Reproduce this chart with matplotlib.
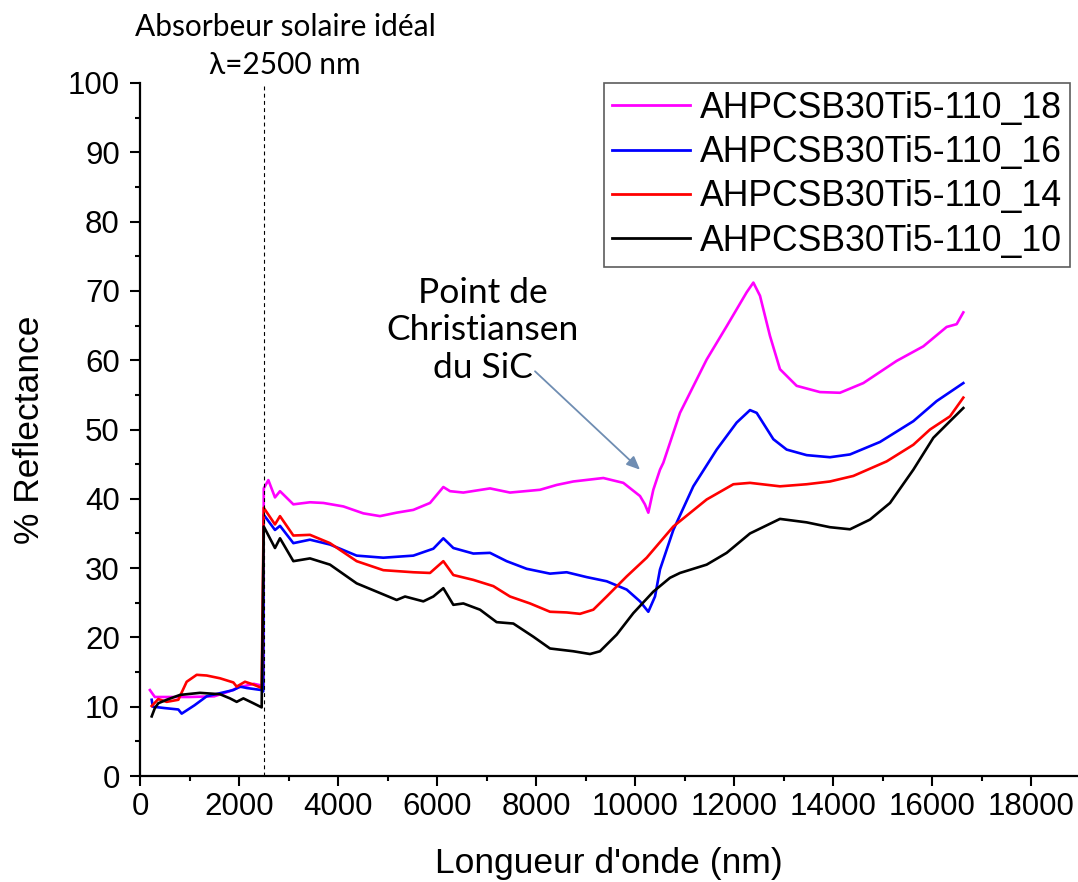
import matplotlib
matplotlib.use("Agg")
import matplotlib.pyplot as plt
from matplotlib.ticker import MultipleLocator

# ---------------- data ----------------
labels = ["AHPCSB30Ti5-110_18", "AHPCSB30Ti5-110_16", "AHPCSB30Ti5-110_14", "AHPCSB30Ti5-110_10"]
colors = ["#FF00FF", "#0000FF", "#FF0000", "#000000"]

x18 = [200, 300, 1000, 1500, 1800, 2000, 2300, 2490, 2500, 2593, 2727, 2828, 3098, 3434, 3704, 4108,
       4512, 4848, 5185, 5522, 5859, 6128, 6263, 6532, 7071, 7475, 8081, 8418, 8754, 9360, 9764,
       10101, 10200, 10269, 10370, 10505, 10572, 10909, 11448, 11852, 12256, 12391, 12525, 12727,
       12929, 13266, 13737, 14141, 14613, 15286, 15825, 16296, 16498, 16633]
y18 = [12.4, 11.4, 11.4, 11.5, 12.2, 12.8, 13.3, 13.0, 41.5, 42.7, 40.2, 41.1, 39.2, 39.5, 39.4, 38.9,
       37.9, 37.5, 38.0, 38.4, 39.4, 41.7, 41.1, 40.9, 41.5, 40.9, 41.3, 42.0, 42.5, 43.0, 42.3,
       40.4, 39.2, 38.0, 41.3, 44.2, 45.2, 52.4, 60.1, 64.9, 69.8, 71.2, 69.3, 63.5,
       58.7, 56.3, 55.4, 55.3, 56.7, 59.9, 62.0, 64.8, 65.2, 66.9]

x16 = [236, 260, 500, 774, 842, 1100, 1347, 1885, 2020, 2155, 2458, 2490, 2500, 2727, 2828, 3098,
       3434, 3838, 4377, 4916, 5522, 5926, 6128, 6330, 6734, 7071, 7407, 7811, 8283, 8620, 9024,
       9428, 9832, 10101, 10269, 10404, 10505, 10774, 11178, 11650, 12054, 12323, 12458, 12795,
       13064, 13468, 13939, 14343, 14949, 15623, 16094, 16633]
y16 = [11.0, 10.0, 9.8, 9.6, 9.0, 10.2, 11.5, 12.4, 12.9, 12.7, 12.4, 12.2, 37.7, 35.5, 36.1, 33.6,
       34.1, 33.4, 31.8, 31.5, 31.8, 32.8, 34.3, 32.9, 32.1, 32.2, 31.0, 29.9, 29.2, 29.4, 28.7,
       28.1, 26.9, 25.2, 23.7, 25.9, 29.8, 35.5, 41.8, 47.1, 51.0, 52.8, 52.4, 48.6,
       47.1, 46.3, 46.0, 46.4, 48.2, 51.2, 54.1, 56.7]

x14 = [236, 370, 539, 774, 943, 1145, 1347, 1616, 1886, 1953, 2121, 2290, 2458, 2500, 2727, 2828,
       3098, 3434, 3838, 4377, 4916, 5522, 5859, 6128, 6330, 6734, 7138, 7475, 7879, 8283, 8620,
       8889, 9158, 9428, 9832, 10236, 10774, 11448, 11987, 12323, 12929, 13468, 13939, 14411,
       15084, 15623, 15960, 16364, 16633]
y14 = [10.1, 11.1, 10.7, 11.0, 13.6, 14.6, 14.5, 14.1, 13.5, 12.9, 13.6, 13.2, 12.7, 38.7, 36.3, 37.5,
       34.7, 34.8, 33.6, 31.0, 29.7, 29.4, 29.3, 31.0, 29.0, 28.3, 27.4, 25.9, 24.9, 23.7, 23.6,
       23.4, 24.0, 25.9, 28.8, 31.5, 36.0, 39.9, 42.1, 42.3, 41.8, 42.1, 42.5, 43.3,
       45.4, 47.8, 50.0, 51.9, 54.6]

x10 = [236, 300, 370, 539, 808, 1212, 1616, 1818, 1953, 2088, 2290, 2458, 2500, 2727, 2828, 3098,
       3434, 3838, 4377, 4916, 5185, 5354, 5724, 5926, 6128, 6330, 6532, 6869, 7205, 7542, 7946,
       8283, 8754, 9091, 9293, 9630, 9966, 10370, 10707, 10909, 11448, 11852, 12323, 12929,
       13468, 13939, 14343, 14747, 15152, 15623, 16027, 16364, 16633]
y10 = [8.6, 9.8, 10.5, 11.0, 11.7, 12.0, 11.8, 11.2, 10.7, 11.2, 10.5, 9.9, 36.0, 32.9, 34.3, 31.0,
       31.4, 30.5, 27.8, 26.2, 25.4, 25.9, 25.2, 25.9, 27.1, 24.7, 24.9, 24.0, 22.2, 22.0, 20.1,
       18.4, 18.0, 17.6, 18.0, 20.4, 23.5, 26.6, 28.6, 29.3, 30.5, 32.2, 35.0, 37.1,
       36.6, 35.9, 35.6, 37.0, 39.4, 44.2, 48.8, 51.2, 53.1]

series_x = [x18, x16, x14, x10]
series_y = [y18, y16, y14, y10]

ideal_wl = 2500
x_ticks = list(range(0, 18001, 2000))
y_ticks = list(range(0, 101, 10))

# ---------------- figure ----------------
W, H = 1078, 882
fig = plt.figure(figsize=(W / 100, H / 100), dpi=100)
ax = fig.add_axes([140 / W, 1 - 776 / H, (W - 140) / W, (776 - 83) / H])

for xs, ys, c, lab in zip(series_x, series_y, colors, labels):
    ax.plot(xs, ys, color=c, lw=1.9, label=lab, solid_joinstyle="round")

ax.axvline(ideal_wl, color="black", lw=0.8, ls=(0, (3.5, 3)))

ax.set_xlim(0, (W - 140) / 49.5 * 1000)
ax.set_ylim(0, 100)
ax.set_xticks(x_ticks)
ax.set_yticks(y_ticks)
ax.xaxis.set_minor_locator(MultipleLocator(1000))
ax.yaxis.set_minor_locator(MultipleLocator(5))

for s in ["top", "right"]:
    ax.spines[s].set_visible(False)
for s in ["left", "bottom"]:
    ax.spines[s].set_linewidth(1.6)

ax.tick_params(which="major", direction="out", length=7, width=1.5, labelsize=22.5)
ax.tick_params(axis="y", which="major", pad=7.5)
ax.tick_params(axis="x", which="major", pad=4.5)
ax.tick_params(which="minor", direction="out", length=3.5, width=1.5)
for lbl in ax.get_xticklabels() + ax.get_yticklabels():
    lbl.set_fontfamily("Liberation Sans")

ax.set_xlabel("Longueur d'onde (nm)", fontsize=25.5, family="Liberation Sans", labelpad=18)
ax.set_ylabel("% Reflectance", fontsize=25.5, family="Liberation Sans", labelpad=16)

leg = fig.legend(loc="upper right", bbox_to_anchor=(1070 / W, 1 - 83 / H),
                 bbox_transform=fig.transFigure, frameon=True, fancybox=False,
                 prop={"family": "Liberation Sans", "size": 25.7},
                 handlelength=2.2, handletextpad=0.28, labelspacing=0.26,
                 borderpad=0.22, borderaxespad=0)
leg.get_frame().set_edgecolor("#333333")
leg.get_frame().set_linewidth(1.2)
for h in leg.get_lines():
    h.set_linewidth(2.0)

annot_font = ["Lato", "DejaVu Sans"]
fig.text(285 / W, 1 - 46 / H, "Absorbeur solaire idéal\nλ=2500 nm", ha="center", va="center",
         fontsize=21.5, family=annot_font, linespacing=1.4)

ax.annotate("", xy=(10101, 44.2), xytext=(7980, 58.4),
            arrowprops=dict(arrowstyle="-|>,head_length=0.8,head_width=0.35", color="#6f8db2",
                            lw=1.3, shrinkA=0, shrinkB=0))
ax.text(6929, 64.3, "Point de\nChristiansen\ndu SiC", ha="center", va="center",
        fontsize=25.5, family=annot_font, linespacing=1.2)

fig.savefig("out.png", dpi=100)
